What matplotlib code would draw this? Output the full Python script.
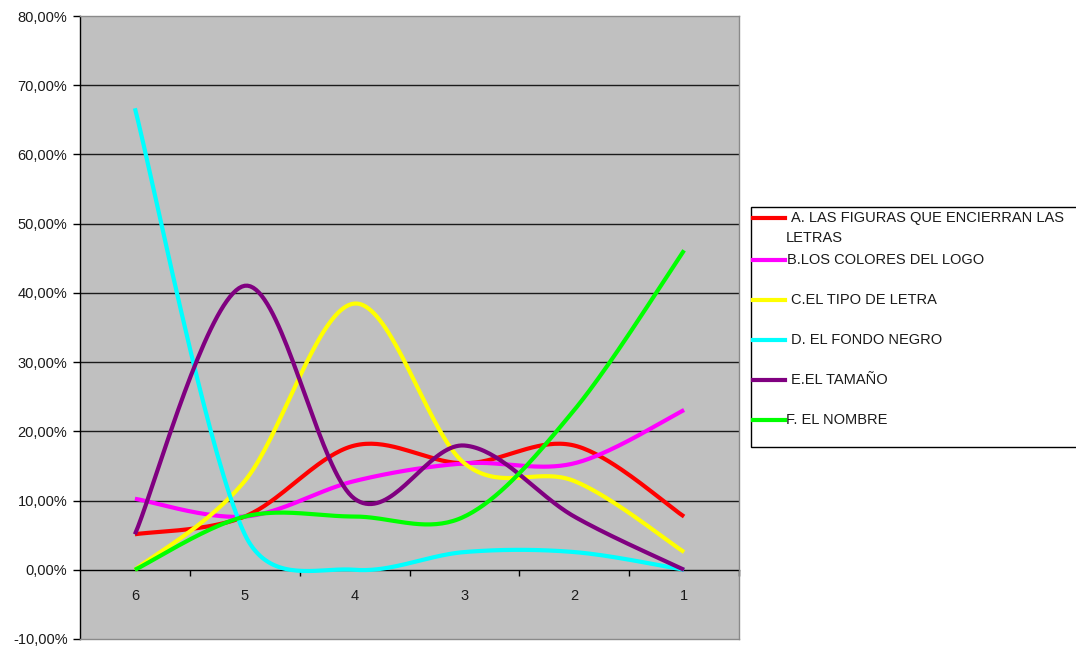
import numpy as np
import matplotlib
matplotlib.use("Agg")
import matplotlib.pyplot as plt
from matplotlib.lines import Line2D
from matplotlib.patches import Rectangle
from matplotlib.ticker import FixedLocator, FuncFormatter

plt.rcParams["font.family"] = ["Liberation Sans", "DejaVu Sans"]

# Ranking positions (x categories) and share of answers per item, in percent
ranks = ["6", "5", "4", "3", "2", "1"]
figuras = [5.13, 7.69, 17.95, 15.38, 17.95, 7.69]
colores = [10.26, 7.69, 12.82, 15.38, 15.38, 23.08]
tipo_letra = [0.0, 12.82, 38.46, 15.38, 12.82, 2.56]
fondo_negro = [66.67, 5.13, 0.0, 2.56, 2.56, 0.0]
tamano = [5.13, 41.03, 10.26, 17.95, 7.69, 0.0]
nombre = [0.0, 7.69, 7.69, 7.69, 23.08, 46.15]

labels = [
    "A. LAS FIGURAS QUE ENCIERRAN LAS\nLETRAS",
    "B.LOS COLORES DEL LOGO",
    "C.EL TIPO DE LETRA",
    "D. EL FONDO NEGRO",
    "E.EL TAMAÑO",
    "F. EL NOMBRE",
]
colors = ["#FF0000", "#FF00FF", "#FFFF00", "#00FFFF", "#800080", "#00FF00"]
series = [figuras, colores, tipo_letra, fondo_negro, tamano, nombre]

FS = 10.5
W, H = 1076, 652
fig = plt.figure(figsize=(W / 100, H / 100), dpi=100)
fig.patch.set_facecolor("white")

# plot area in pixel coordinates
L, R, T, B = 80, 739, 16, 639
ax = fig.add_axes([L / W, 1 - B / H, (R - L) / W, (B - T) / H])
ax.set_facecolor("#C0C0C0")
ax.set_xlim(-0.5, len(ranks) - 0.5)
ax.set_ylim(-10, 80)


def smooth_path(xs, ys, n=40):
    """Bezier smoothing in screen space, control arms limited to half the segment."""
    pts = ax.transData.transform(np.column_stack([xs, ys]))
    out = [pts[0]]
    m = len(pts)
    for i in range(m - 1):
        p0 = pts[i - 1] if i > 0 else pts[i]
        p1 = pts[i]
        p2 = pts[i + 1]
        p3 = pts[i + 2] if i + 2 < m else pts[i + 1]
        d12 = np.hypot(*(p2 - p1))
        d02 = np.hypot(*(p2 - p0))
        d13 = np.hypot(*(p3 - p1))
        f = 1 / 6
        if d02 / 6 >= d12 / 2 and d02 > 0:
            f = d12 / (2 * d02)
        g = 1 / 6
        if d13 / 6 >= d12 / 2 and d13 > 0:
            g = d12 / (2 * d13)
        c1 = p1 + f * (p2 - p0)
        c2 = p2 - g * (p3 - p1)
        t = np.linspace(0, 1, n)[1:, None]
        seg = ((1 - t) ** 3) * p1 + 3 * ((1 - t) ** 2) * t * c1 \
            + 3 * (1 - t) * t ** 2 * c2 + t ** 3 * p2
        out.extend(seg)
    out = np.array(out)
    return ax.transData.inverted().transform(out)


xpos = np.arange(len(ranks))
for vals, col, lab in zip(series, colors, labels):
    curve = smooth_path(xpos, np.asarray(vals, dtype=float))
    ax.plot(curve[:, 0], curve[:, 1], color=col, lw=3.0,
            solid_capstyle="butt", solid_joinstyle="round", zorder=3, label=lab)

# y axis
yt = np.arange(-10, 81, 10)
ax.yaxis.set_major_locator(FixedLocator(yt))
ax.yaxis.set_major_formatter(FuncFormatter(lambda v, p: f"{v:.2f}%".replace(".", ",")))
ax.tick_params(axis="y", direction="out", length=5, width=1, color="black",
               pad=4, labelsize=FS, labelcolor="#1a1a1a")
for v in yt[1:-1]:
    if v != 0:
        ax.axhline(v, color="#1a1a1a", lw=1.0, zorder=1)

# x axis crossing at zero, ticks between categories
ax.spines["bottom"].set_position(("data", 0))
ax.spines["bottom"].set_color("black")
ax.spines["bottom"].set_linewidth(1.0)
ax.spines["bottom"].set_zorder(2)
ax.set_xticks(xpos)
ax.set_xticklabels(ranks)
ax.set_xticks(np.arange(0.5, len(ranks)), minor=True)
ax.tick_params(axis="x", which="major", length=0, pad=14, labelsize=FS,
               labelcolor="#1a1a1a")
ax.tick_params(axis="x", which="minor", direction="out", length=4, width=1,
               color="black")

ax.spines["left"].set_color("black")
ax.spines["left"].set_linewidth(1.0)
for s in ("top", "right"):
    ax.spines[s].set_color("#8a8a8a")
    ax.spines[s].set_linewidth(1.0)
ax.plot([0, 1], [0, 0], transform=ax.transAxes, color="#8a8a8a", lw=1.0,
        clip_on=False, zorder=4)


# legend box drawn in pixel coordinates of the figure
def fx(x):
    return x / W


def fy(y):
    return 1 - y / H


fig.patches.append(Rectangle((fx(751), fy(447)), fx(1090) - fx(751), fy(207) - fy(447),
                             transform=fig.transFigure, facecolor="white",
                             edgecolor="black", lw=1.0, clip_on=False))
entry_y = [218, 260, 300, 340, 380, 420]
text_x = [791, 787, 791, 791, 791, 786]
for yy, tx, col, lab in zip(entry_y, text_x, colors, labels):
    fig.lines.append(Line2D([fx(753), fx(785)], [fy(yy), fy(yy)],
                            transform=fig.transFigure, color=col, lw=3.0))
    first, *rest = lab.split("\n")
    fig.text(fx(tx), fy(yy), first, fontsize=FS, color="#1a1a1a",
             va="center", ha="left")
    if rest:
        fig.text(fx(786), fy(yy + 20), rest[0], fontsize=FS, color="#1a1a1a",
                 va="center", ha="left")

fig.savefig("out.png", dpi=100, facecolor="white")
